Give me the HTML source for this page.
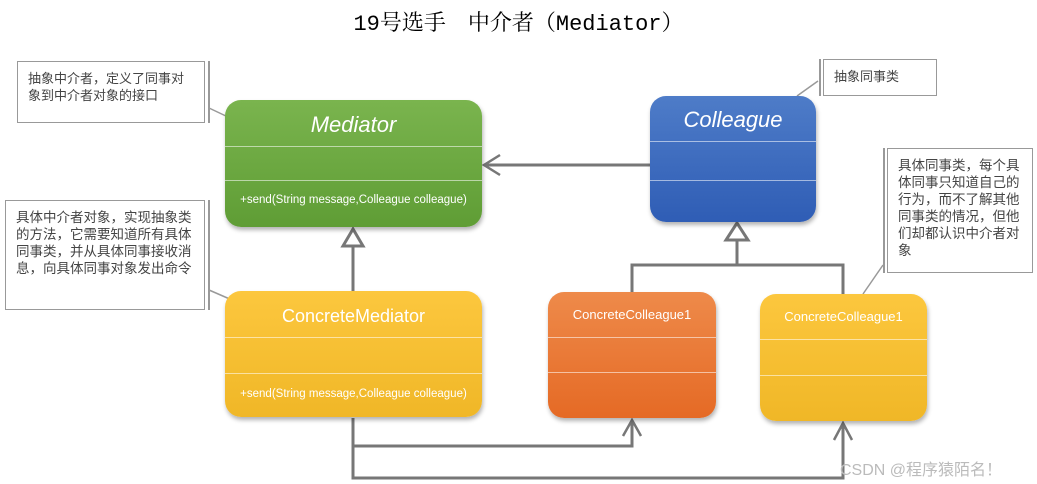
<!DOCTYPE html>
<html><head><meta charset="utf-8"><style>
body{margin:0;background:#fff;width:1037px;height:484px;overflow:hidden;position:relative;font-family:"Liberation Sans","Noto Sans CJK SC",sans-serif}
.t{position:absolute;left:0;width:1037px;top:6px;text-align:center;font-family:"Liberation Mono","Noto Serif CJK SC",monospace;font-size:22px;color:#000}
.box{position:absolute;border-radius:16px;box-shadow:1px 3px 4px rgba(0,0,0,.3);color:#fff;text-align:center}
.ln{position:absolute;left:0;right:0;height:1px;background:rgba(255,255,255,.55)}
.lb{position:absolute;left:0;right:0}
.note{position:absolute;border:1.5px solid #999;background:#fff;font-size:13px;color:#444;line-height:17px;padding:6px 8px;box-sizing:border-box}
.bar{position:absolute;width:2px;background:#999}
</style></head><body>
<div class="t">19号选手　中介者（Mediator）</div>
<svg width="1037" height="484" style="position:absolute;left:0;top:0" fill="none" stroke="#777" stroke-width="3">
<line x1="650" y1="165" x2="484" y2="165"/><polyline points="500,155 484,165 500,175" stroke-width="2.5"/>
<line x1="353" y1="291" x2="353" y2="246"/><polygon points="353,229 343,246 363,246" fill="#fff"/>
<polyline points="632,292 632,265 843,265 843,294"/><line x1="737" y1="265" x2="737" y2="240"/><polygon points="737,223 726,240 748,240" fill="#fff"/>
<polyline points="353,418 353,446 632,446 632,420"/><polyline points="623,436 632,420 641,436" stroke-width="2.5"/>
<polyline points="353,446 353,478 843,478 843,423"/><polyline points="834,440 843,423 852,440" stroke-width="2.5"/>
<g stroke="#999" stroke-width="1.5"><line x1="209" y1="108" x2="228" y2="117"/><line x1="209" y1="290" x2="232" y2="300"/><line x1="797" y1="96" x2="818" y2="81"/><line x1="863" y1="294" x2="883" y2="265"/></g>
</svg>
<div class="note" style="left:17px;top:61px;width:188px;height:62px;padding:8px 10px;">抽象中介者，定义了同事对象到中介者对象的接口</div><div class="bar" style="left:208px;top:61px;height:62px"></div>
<div class="note" style="left:5px;top:200px;width:200px;height:110px;padding:8px 10px;font-size:13.5px">具体中介者对象，实现抽象类的方法，它需要知道所有具体同事类，并从具体同事接收消息，向具体同事对象发出命令</div><div class="bar" style="left:208px;top:200px;height:110px"></div>
<div class="note" style="left:823px;top:59px;width:114px;height:37px;padding:8px 10px;">抽象同事类</div><div class="bar" style="left:819px;top:59px;height:37px"></div>
<div class="note" style="left:887px;top:148px;width:146px;height:125px;padding:8px 10px;font-size:13.5px">具体同事类，每个具体同事只知道自己的行为，而不了解其他同事类的情况，但他们却都认识中介者对象</div><div class="bar" style="left:883px;top:148px;height:125px"></div>
<div class="box" style="left:225px;top:100px;width:257px;height:127px;background:linear-gradient(#7ab44e,#5f9d35)">
<div class="lb" style="top:12px;font-size:22px;font-style:italic">Mediator</div><div class="ln" style="top:46px"></div><div class="ln" style="top:80px"></div>
<div class="lb" style="top:94px;font-size:11.5px">+send(String message,Colleague colleague)</div></div>
<div class="box" style="left:650px;top:96px;width:166px;height:126px;background:linear-gradient(#4e7cc8,#2f5db5)">
<div class="lb" style="top:11px;font-size:22px;font-style:italic">Colleague</div><div class="ln" style="top:45px"></div><div class="ln" style="top:84px"></div></div>
<div class="box" style="left:225px;top:291px;width:257px;height:126px;background:linear-gradient(#fcc73e,#f0b727)">
<div class="lb" style="top:15px;font-size:18px">ConcreteMediator</div><div class="ln" style="top:46px"></div><div class="ln" style="top:82px"></div>
<div class="lb" style="top:97px;font-size:11.5px">+send(String message,Colleague colleague)</div></div>
<div class="box" style="left:548px;top:292px;width:168px;height:126px;background:linear-gradient(#ee8a4a,#e56a25)">
<div class="lb" style="top:15px;font-size:13px">ConcreteColleague1</div><div class="ln" style="top:45px"></div><div class="ln" style="top:80px"></div></div>
<div class="box" style="left:760px;top:294px;width:167px;height:127px;background:linear-gradient(#fcc73e,#f0b727)">
<div class="lb" style="top:15px;font-size:13px">ConcreteColleague1</div><div class="ln" style="top:45px"></div><div class="ln" style="top:81px"></div></div>
<div style="position:absolute;left:840px;top:456px;font-size:16px;color:#bbb">CSDN @程序猿陌名！</div>
</body></html>
